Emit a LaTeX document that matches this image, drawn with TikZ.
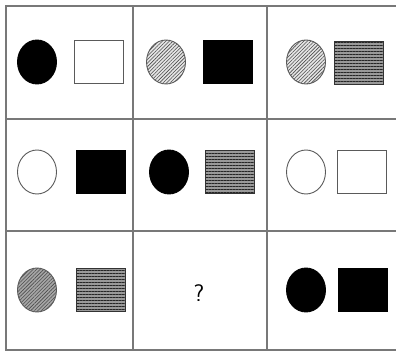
\documentclass[tikz,border=0pt]{standalone}
\usepackage{tikz}
\usetikzlibrary{shapes.geometric, patterns.meta}
\definecolor{GridGray}{RGB}{120,120,120}
\definecolor{LineGray}{RGB}{90,90,90}

\begin{document}
\begin{tikzpicture}[x=1pt,y=-1pt,
        oval/.style={ellipse,draw=LineGray,line width=0.9pt,inner sep=0pt,
                     minimum width=39pt,minimum height=44pt},
        box/.style={rectangle,draw=LineGray,line width=0.9pt,inner sep=0pt,
                    minimum width=49pt,minimum height=43pt},
        solid/.style={fill=black,draw=black},
        hatch/.style={preaction={fill=black!#1},
                      pattern={Lines[angle=45,distance=2.5pt,line width=0.6pt]},
                      pattern color=black!70},
        stripes/.style={preaction={fill=black!40},draw=black!80,
                        pattern={Lines[angle=0,distance=3pt,line width=1pt]},
                        pattern color=black!85}]
        \useasboundingbox (0,0) rectangle (396,352);
        % grid
        \draw[GridGray,line width=1.2pt] (6,6) rectangle (398,350);
        \draw[GridGray,line width=1.2pt] (133,6) -- (133,350) (267,6) -- (267,350)
          (6,119) -- (398,119) (6,231) -- (398,231);
        % row 1
        \node[oval,solid] (c11) at (37,62) {};
        \node[box] (s11) at (99,62) {};
        \node[oval,hatch=10] (c12) at (166,62) {};
        \node[box,solid] (s12) at (228,62) {};
        \node[oval,hatch=10] (c13) at (306,62) {};
        \node[box,stripes] (s13) at (359,63) {};
        % row 2
        \node[oval] (c21) at (37,172) {};
        \node[box,solid] (s21) at (101,172) {};
        \node[oval,solid] (c22) at (169,172) {};
        \node[box,stripes] (s22) at (230,172) {};
        \node[oval] (c23) at (306,172) {};
        \node[box] (s23) at (362,172) {};
        % row 3
        \node[oval,hatch=35] (c31) at (37,290) {};
        \node[box,stripes] (s31) at (101,290) {};
        \node[font=\fontsize{24}{24}\selectfont\sffamily] (q32) at (199,293) {?};
        \node[oval,solid] (c33) at (306,290) {};
        \node[box,solid] (s33) at (363,290) {};
      \end{tikzpicture}
\end{document}
